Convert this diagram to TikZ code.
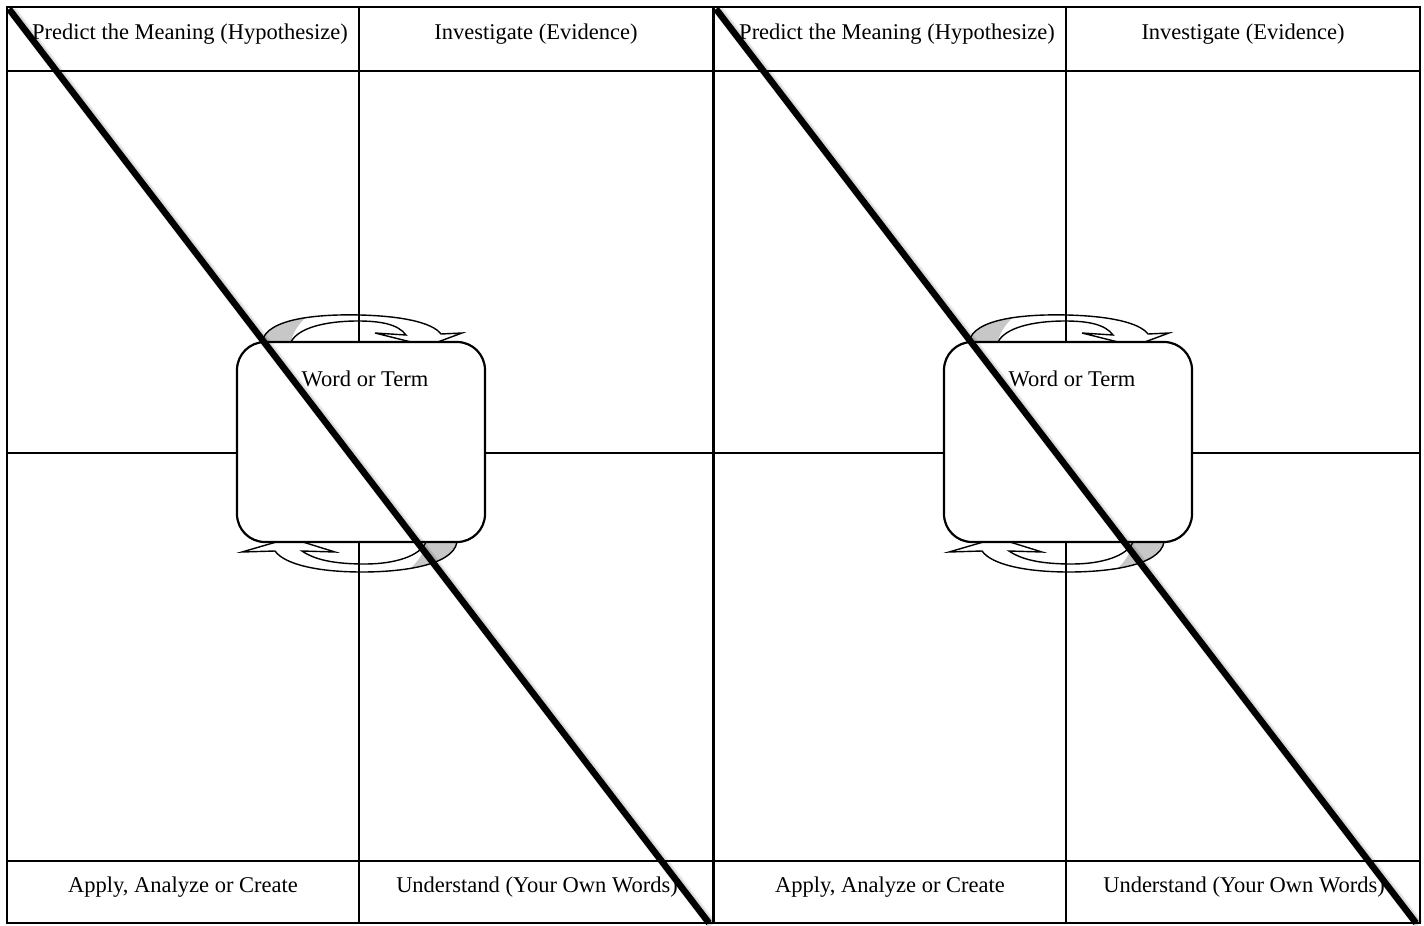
\documentclass[tikz,border=0pt]{standalone}
\usepackage{fontspec}
\setmainfont{Liberation Serif}
\begin{document}
\def\toparrow{(262,342) .. controls (266,318) and (320,314) .. (360,315) .. controls (400,316) and (432,322) .. (441,334) -- (462,333) -- (427,346) -- (375,333) -- (406,335) .. controls (398,324) and (380,321) .. (358,321) .. controls (325,321) and (298,328) .. (291,342) -- cycle}
\def\toparrowshade{(255,350) -- (255,305) -- (322,305) .. controls (302,318) and (293,330) .. (291,342) -- (291,350) -- cycle}
\def\botarrow{(457,542) .. controls (453,566) and (400,572) .. (362,572) .. controls (320,572) and (285,565) .. (275,551) -- (242,552) -- (290,538) -- (335,552) -- (302,551) .. controls (315,560) and (335,564) .. (365,564) .. controls (395,564) and (420,556) .. (426,542) -- cycle}
\def\botarrowshade{(465,535) -- (465,580) -- (396,580) .. controls (414,568) and (424,555) .. (426,542) -- (426,535) -- cycle}
\begin{tikzpicture}[x=1pt,y=-1pt,
  gridline/.style={line width=2.4pt, line cap=rect},
  cellText/.style={inner sep=0pt, font=\fontsize{22.5}{27}\selectfont},
  termbox/.style={draw, line width=2.2pt, fill=white, rounded corners=28pt,
    minimum width=248pt, minimum height=200pt, inner sep=0pt},
  bandline/.style={draw, line width=1.4pt},
  bandshade/.style={fill=black!22},
  slash/.style={line width=6.5pt},
  slashshadow/.style={line width=10pt, black, opacity=0.08},
]
\useasboundingbox (0,0) rectangle (1424,926);
\fill[white] (0,0) rectangle (1424,926);
\foreach \p/\dx in {L/0,R/707}{
\begin{scope}[xshift=\dx pt]
  % curved arrows
  \fill[white] \toparrow;
  \begin{scope}\clip \toparrow; \fill[bandshade] \toparrowshade; \end{scope}
  \path[bandline] \toparrow;
  \fill[white] \botarrow;
  \begin{scope}\clip \botarrow; \fill[bandshade] \botarrowshade; \end{scope}
  \path[bandline] \botarrow;
  % grid
  \draw[gridline] (7,7) rectangle (713,923);
  \draw[gridline] (7,71) -- (713,71);
  \draw[gridline] (7,861) -- (713,861);
  \draw[gridline] (7,453) -- (713,453);
  \draw[gridline] (359,7) -- (359,923);
  % texts
  \node[cellText] (\p-predict) at (190,34) {Predict the Meaning (Hypothesize)};
  \node[cellText] (\p-invest) at (536,34) {Investigate (Evidence)};
  \node[cellText] (\p-apply) at (183,887) {Apply, Analyze or Create};
  \node[cellText] (\p-under) at (537,887) {Understand (Your Own Words)};
  % central box
  \node[termbox] (\p-box) at (361,442) {};
  \node[cellText] (\p-term) at (365,379) {Word or Term};
  % diagonal
  \coordinate (\p-s) at (9,9);
  \coordinate (\p-e) at (709,923);
\end{scope}
\draw[slashshadow, transform canvas={shift={(3pt,-2pt)}}] (\p-s) -- (\p-e);
\draw[slashshadow, line width=7.5pt, transform canvas={shift={(2pt,-1pt)}}] (\p-s) -- (\p-e);
\draw[slash] (\p-s) -- (\p-e);
}
\end{tikzpicture}
\end{document}
